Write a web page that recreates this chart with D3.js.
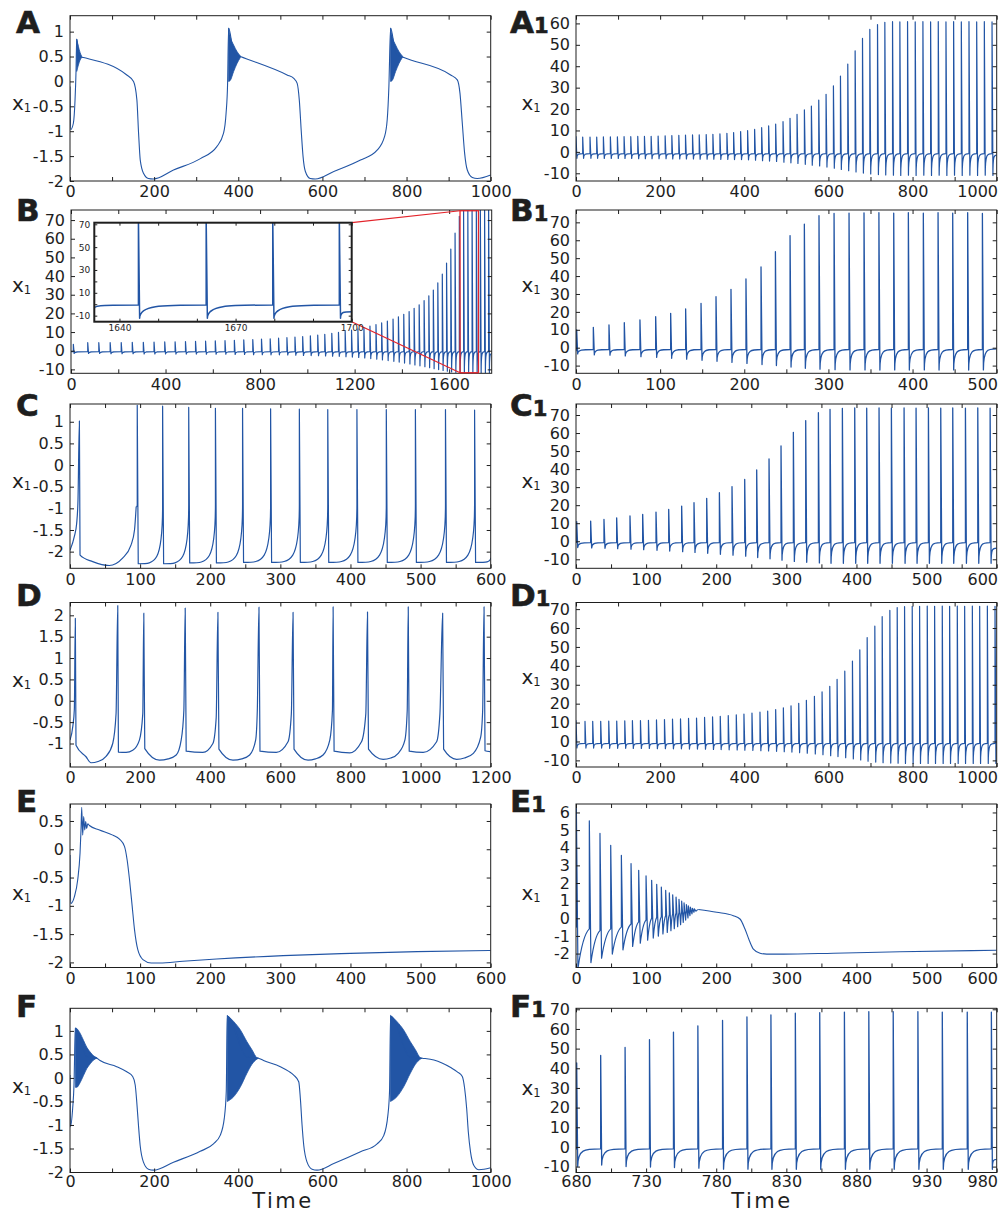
<!DOCTYPE html>
<html><head><meta charset="utf-8">
<script src="https://cdn.jsdelivr.net/npm/d3@7"></script>
<style>body{margin:0;background:#fff} svg{display:block}</style>
</head><body><svg id="c" width="1000" height="1213"></svg>
<script>
// ---------------- DATA ----------------
// Panel A: relaxation oscillation (key points) + fast bursts (envelopes)
const aTrace = [[0,-0.1],[1.5,-0.97],[8,-0.84],[12,-0.37],[14.3,0.2],[15.9,0.85],[22,0.5],[32,0.48],[135,0.13],[151,0.0],[159,-0.37],[163,-1.04],[167,-1.58],[175,-1.85],[186.5,-1.95],[198,-1.96],[246,-1.78],[310,-1.55],[349,-1.31],[365,-1.04],[371,-0.64],[374.6,-0.04],[377,1.07],[390,0.55],[405,0.5],[516,0.13],[532,0.06],[540,-0.04],[545,-0.37],[550,-1.04],[554,-1.51],[559.5,-1.81],[571,-1.95],[583,-1.96],[627,-1.81],[690.5,-1.58],[730,-1.38],[747.6,-1.11],[754,-0.77],[758,-0.1],[762,1.07],[775,0.55],[793.6,0.48],[904.8,0.13],[920.6,0.03],[927,-0.24],[932.5,-0.84],[938,-1.44],[944.4,-1.78],[956.3,-1.93],[968,-1.95],[1000,-1.88]];
const aBurstT  = [[15.9,20,24,28],[377,381,389,397,405],[762,766,774,782,790]];
const aBurstHi = [[0.85,0.7,0.58,0.5],[1.07,0.9,0.73,0.6,0.51],[1.07,0.9,0.73,0.6,0.51]];
const aBurstLo = [[0.2,0.33,0.43,0.48],[0.0,0.02,0.2,0.36,0.48],[0.0,0.02,0.2,0.36,0.48]];
const aXTicks = [0,100,200,300,400,500,600,700,800,900,1000];
const aXLabels = [0,200,400,600,800,1000];
const aYTicks = [-2,-1.5,-1,-0.5,0,0.5,1];

// Panel A1: spike train
const a1T = [0,15.9,33.3,49.2,65.1,81.7,98.4,114.3,130.2,146.8,162.7,178.6,195.2,211.9,227.8,244.4,260.3,277,292.9,309.5,325.4,342.1,358.7,374.6,391.3,407.9,424.6,441.3,457.9,474.6,492.1,508.7,525.4,542.9,559.5,577,594.4,611.9,628.6,646,663.5,681,698.4,716.7,734.1,752.4,769.8,788.1,806.3,824.6,842.9,861.1,879.4,897.6,915.9,934.1,952.4,970.6,988.9];
const a1Peak = [7.1,6.9,6.9,6.9,7.0,7.0,7.0,7.1,7.1,7.2,7.2,7.3,7.4,7.5,7.6,7.7,7.8,7.9,8.0,8.1,8.2,8.4,8.7,9.0,9.5,9.9,10.5,11.3,12.1,13.0,14.1,15.7,17.5,19.6,21.4,24.2,26.9,30.8,35.4,41.0,47.2,53.0,57.2,59.5,60.5,60.8,60.7,60.8,60.7,60.8,60.7,60.8,60.7,60.8,60.7,60.8,60.7,60.8,60.7];
const a1Trough = [-3.0,-3.0,-3.0,-3.0,-3.1,-3.1,-3.1,-3.1,-3.1,-3.2,-3.2,-3.2,-3.2,-3.2,-3.3,-3.3,-3.3,-3.3,-3.4,-3.4,-3.4,-3.5,-3.5,-3.6,-3.6,-3.7,-3.9,-4.1,-4.3,-4.5,-4.8,-5.1,-5.4,-5.8,-6.2,-6.6,-7.1,-7.6,-8.2,-8.8,-9.4,-9.9,-10.3,-10.6,-10.8,-10.9,-11.0,-10.9,-11.0,-10.9,-11.0,-10.9,-11.0,-10.9,-11.0,-10.9,-11.0,-10.9,-11.0];
const a1Pre = -0.8;
const a1YTicks = [-10,0,10,20,30,40,50,60];

// Panel B: long spike train + zoom window + inset
const bT = [9.9,70.8,117.6,165.7,212.5,259.2,306,351.3,396.6,440.5,484.4,526.9,569.4,610.5,651.6,691.2,730.9,769.1,806,842.8,878.2,913.6,947.6,980.2,1012.7,1043.9,1073.7,1103.4,1131.7,1160,1187,1213.9,1239.4,1264.9,1290.4,1314.4,1338.5,1362.6,1385.3,1407.9,1430.6,1451.8,1473.1,1494,1514,1533,1552,1571,1589,1607,1625,1643,1661,1679,1697,1715,1732,1750,1767];
const bPeak = [3.4,4.3,4.3,4.4,4.4,4.5,4.5,4.6,4.7,4.8,4.9,5.0,5.1,5.3,5.4,5.6,5.8,6.0,6.2,6.4,6.7,7.0,7.3,7.6,8.0,8.4,8.8,9.3,9.8,10.4,11.0,11.7,12.4,13.2,14.0,14.9,15.9,17.0,18.2,19.5,21.0,22.7,24.6,26.8,29.4,32.5,36.3,41.0,47.0,54.5,63.0,72.0,75.2,75.2,75.2,75.2,75.2,75.2,75.2];
const bTrough = [-1.5,-1.5,-1.5,-1.6,-1.6,-1.6,-1.7,-1.7,-1.7,-1.8,-1.8,-1.8,-1.9,-1.9,-1.9,-2.0,-2.0,-2.1,-2.1,-2.2,-2.2,-2.3,-2.4,-2.5,-2.6,-2.7,-2.8,-2.9,-3.0,-3.2,-3.4,-3.6,-3.9,-4.2,-4.5,-4.9,-5.3,-5.7,-6.1,-6.6,-7.1,-7.6,-8.1,-8.6,-9.1,-9.6,-10.1,-10.6,-11.0,-11.4,-11.7,-11.9,-12.0,-12.0,-12.0,-12.0,-12.0,-12.0,-12.0];
const bPre = -0.5;
const bZoomWindow = [1646, 1724];
const bXTicks = [0,200,400,600,800,1000,1200,1400,1600];
const bXLabels = [0,400,800,1200,1600];
const bYTicks = [-10,0,10,20,30,40,50,60,70];
const insT = [1644.9,1662.4,1679.6,1696.8];
const insPeak = [76,76,76,76];
const insTrough = [-12.3,-12.3,-12.3,-12.3];
const insPre = -0.7;
const insXTicks = [1640,1650,1660,1670,1680,1690,1700];
const insXLabels = [1640,1670,1700];
const insYTicks = [-10,0,10,20,30,40,50,60,70];
const insYLabels = [-10,10,30,50,70];

// Panel B1
const b1T = [0.8,20.6,39.2,57.4,76,94.7,112.5,130.3,148.6,166.4,184.2,202,219.9,237,254.4,271.4,288.8,306.7,324.5,342.3,360,377.6,395,412.8,430.3,447.7,465.5,483];
const b1Peak = [10,11.4,12.7,14,15.5,17.3,19.2,21.6,24.8,28.5,32.6,38.4,45.1,53.6,62.6,69,73.7,75,75.2,75.3,75.4,75.1,75.4,75.1,75.4,75.1,75.4,75];
const b1Trough = [-3.5,-4,-4.2,-4.6,-5,-5.4,-5.9,-6.4,-7,-7.6,-8.2,-8.8,-9.4,-10,-10.8,-11.5,-12,-12.3,-12.4,-12.4,-12.5,-12.4,-12.5,-12.4,-12.5,-12.4,-12.5,-12.4];
const b1Pre = -1;
const b1XTicks = [0,50,100,150,200,250,300,350,400,450,500];
const b1XLabels = [0,100,200,300,400,500];

// Panel C: initial irregular part (key points) then periodic spikes
const cInit = [[0,-1.97],[6.2,-1.65],[9.5,-1.35],[11.4,-0.81],[13.4,1.02],[14.3,-2.08],[32.4,-2.23],[56,-2.32],[75,-2.15],[87,-1.85],[92,-1.5],[94.4,-0.96]];
const cT = [95.9,132.1,169.3,207.4,246.1,286.1,327.1,367.6,409.2,451.1,492.6,535.5,577.0];
const cPeak = [1.38,1.36,1.33,1.31,1.31,1.30,1.29,1.28,1.28,1.28,1.28,1.28,1.27];
const cTrough = [-2.28,-2.28,-2.26,-2.26,-2.25,-2.25,-2.25,-2.25,-2.25,-2.25,-2.25,-2.25,-2.25];
const cPre = -0.9;
const cEnd = [600,-2.14];
const cXTicks = [0,50,100,150,200,250,300,350,400,450,500,550,600];
const cXLabels = [0,100,200,300,400,500,600];
const cYTicks = [-2,-1.5,-1,-0.5,0,0.5,1];

// Panel C1
const c1T = [1,20.9,39.9,58,77,95.1,114.1,132.2,150.7,168.3,186.4,204.5,222.5,240.6,257.7,275.3,292.4,310,327.6,345.7,362.3,379.9,397.5,414.6,432.2,449.8,467.9,485,502.6,520.2,537.3,555.4,573,590.6];
const c1Peak = [10.9,11.2,12.1,13,14,14.9,16.2,17.7,19.5,21.4,23.8,26.9,30.3,34.3,39.5,45.6,52.8,60.4,66.9,71.3,73.1,73.7,73.9,73.8,73.9,73.8,73.9,73.8,73.9,73.8,73.9,73.8,73.9,73.8];
const c1Trough = [-3.5,-3.7,-3.9,-4.1,-4.4,-4.7,-5.0,-5.4,-5.8,-6.2,-6.7,-7.2,-7.7,-8.3,-9.0,-9.7,-10.5,-11.2,-11.7,-12.0,-12.2,-12.2,-12.2,-12.2,-12.2,-12.2,-12.2,-12.2,-12.2,-12.2,-12.2,-12.2,-12.2,-12.2];
const c1Pre = -0.8;

// Panel D: key points
const dTrace = [[0,-0.92],[8,-0.6],[12.4,-0.2],[15.2,1.93],[17.1,-1.04],[45.7,-1.31],[60,-1.45],[80,-1.42],[102.9,-1.3],[121.9,-1.0],[131.4,-0.3],[136.2,2.23],[138.1,-1.2],[160,-1.21],[179,-1.16],[198,-0.92],[207.6,-0.3],[210.5,2.05],[213.3,-1.12],[255.2,-1.39],[280,-1.36],[302.9,-1.27],[317.1,-0.92],[324.8,-0.22],[328.6,2.17],[331.4,-1.18],[379,-1.21],[407.6,-1.0],[417,-0.4],[421.9,2.07],[424.8,-1.13],[464.8,-1.39],[490,-1.36],[512.4,-1.27],[529.5,-0.92],[534.3,-0.22],[539,2.19],[541.9,-1.18],[588.6,-1.21],[621.9,-0.96],[631.4,-0.3],[636.2,2.07],[639,-1.13],[679,-1.39],[700,-1.36],[721.9,-1.27],[741,-0.92],[748.6,-0.22],[750.5,2.2],[753.3,-1.18],[798,-1.22],[831.4,-0.96],[843.8,-0.3],[848.6,2.08],[851.4,-1.13],[893.3,-1.37],[915,-1.34],[936.2,-1.23],[955.2,-0.92],[961.9,-0.22],[964.8,2.2],[967.6,-1.18],[1007.6,-1.21],[1045.7,-0.96],[1055.2,-0.3],[1062.9,2.05],[1065.7,-1.13],[1102.9,-1.37],[1125,-1.34],[1150.5,-1.23],[1171.4,-0.85],[1177.1,-0.22],[1181,2.2],[1183.8,-1.17],[1198,-1.19]];
const dXTicks = [0,100,200,300,400,500,600,700,800,900,1000,1100,1200];
const dXLabels = [0,200,400,600,800,1000,1200];
const dYTicks = [-1,-0.5,0,0.5,1,1.5,2];

// Panel D1
const d1T = [0,21.4,39.7,58.7,77.8,96.8,115.9,134.1,153.2,172.2,191.3,210.3,229.4,248.4,267.5,286.5,305.6,324.6,342.9,361.9,381,399.2,418.3,437.3,455.6,474.6,492.9,511.1,529.4,547.6,566.7,584.9,603.2,620.6,638.9,657.1,674.6,692.1,710.3,727.8,746,763.5,781,799.2,816.7,834.9,852.4,870.6,888.1,906.3,923.8,942.1,959.5,977.8,996];
const d1Peak = [11.1,10.6,10.7,10.7,10.8,10.8,10.9,11.0,11.1,11.2,11.4,11.6,11.8,12.0,12.2,12.4,12.7,13.0,13.3,13.7,14.1,14.5,15.0,15.5,16.1,16.9,17.8,18.9,20.2,21.8,23.8,26.2,29.2,32.8,37.2,42.5,48.5,55,61,66,69.3,70.8,71.3,71.5,71.5,71.6,71.5,71.6,71.5,71.6,71.5,71.6,71.5,71.6,71.5];
const d1Trough = [-3.4,-3.5,-3.5,-3.5,-3.6,-3.6,-3.6,-3.7,-3.7,-3.7,-3.8,-3.8,-3.9,-3.9,-4.0,-4.0,-4.1,-4.2,-4.3,-4.4,-4.5,-4.6,-4.7,-4.9,-5.0,-5.2,-5.4,-5.6,-5.9,-6.2,-6.6,-7.0,-7.5,-8.0,-8.6,-9.2,-9.8,-10.4,-10.9,-11.2,-11.4,-11.5,-11.6,-11.6,-11.6,-11.6,-11.6,-11.6,-11.6,-11.6,-11.6,-11.6,-11.6,-11.6,-11.6];
const d1Pre = -1;

// Panel E: key points
const eTrace = [[0,-0.1],[1,-0.96],[6.2,-0.84],[11,-0.54],[14.3,-0.07],[15.7,0.34],[16.7,0.74],[18.1,0.25],[19.5,0.58],[21,0.34],[22.4,0.49],[23.8,0.37],[25.3,0.45],[27.7,0.42],[42,0.34],[61,0.25],[70.6,0.18],[77.7,0.05],[81.5,-0.19],[84.9,-0.54],[88.7,-1.01],[92,-1.42],[96.8,-1.78],[104,-1.95],[115.9,-2.01],[127.8,-2.01],[161,-1.98],[209,-1.94],[304,-1.88],[400,-1.84],[495,-1.81],[600,-1.79]];
const eYTicks = [-2,-1.5,-1,-0.5,0,0.5];

// Panel E1: decaying spikes then plateau and drop
const e1T = [0.5,19,34.2,49.5,64.7,78.5,89.4,99.9,107.9,115.1,121.7,127.9,133.1,137.9,142.7,146.9,150.7,154.1,157.4,160.2,163.1,166,168.8];
const e1Peak = [6.33,5.53,4.81,4.14,3.57,3.1,2.72,2.4,2.15,1.92,1.77,1.58,1.44,1.33,1.2,1.08,0.97,0.87,0.78,0.7,0.63,0.57,0.53];
const e1Trough = [-2.85,-2.51,-2.26,-2.03,-1.79,-1.6,-1.41,-1.24,-1.12,-1.01,-0.89,-0.8,-0.7,-0.59,-0.48,-0.36,-0.23,-0.1,0.02,0.15,0.25,0.34,0.4];
const e1Pre = [-0.5,-0.6,-0.7,-0.6,-0.5,-0.32,-0.2,-0.1,0,0.05,0.1,0.15,0.2,0.25,0.3,0.33,0.36,0.39,0.42,0.44,0.46,0.48,0.5];
const e1Tail = [[174.5,0.5],[200.7,0.34],[224.4,0.15],[233.9,-0.04],[241,-0.61],[247.3,-1.27],[253,-1.75],[262.5,-1.98],[272,-2.03],[295.8,-2.03],[367,-1.98],[462,-1.9],[600,-1.81]];
const e1YTicks = [-2,-1,0,1,2,3,4,5,6];

// Panel F: key points + bursts
const fTrace = [[0,0.06],[1,-1.04],[6.3,-0.65],[9.5,-0.15],[12.7,1.06],[40,0.45],[64,0.42],[71.4,0.37],[111,0.24],[135,0.13],[149,0.03],[155,-0.15],[158.7,-0.51],[162.7,-1.0],[166.7,-1.43],[174.6,-1.79],[186.5,-1.94],[198.4,-1.96],[246,-1.79],[309.5,-1.56],[341,-1.4],[357,-1.22],[366.7,-0.86],[371.4,-0.29],[373.8,1.31],[420,0.45],[448,0.42],[460,0.37],[500,0.24],[520,0.14],[531.7,0.06],[543.7,-0.08],[547.6,-0.44],[551.6,-1.0],[555.6,-1.43],[563.5,-1.79],[575.4,-1.94],[587.3,-1.96],[627,-1.82],[690.5,-1.57],[730,-1.4],[746,-1.22],[755.6,-0.79],[759.5,-0.29],[761.9,1.31],[808,0.45],[837,0.42],[865,0.38],[905,0.22],[920.6,0.13],[932.5,0.03],[938,-0.22],[942.9,-0.65],[946.8,-1.15],[952,-1.57],[960,-1.86],[972,-1.95],[984,-1.94],[1000,-1.91]];
const fBurstT  = [[12.7,16,24,32,40,48,56,64],[373.8,389,405,420.6,432.5,444.4,448],[761.9,777,793,809,821,833,837]];
const fBurstHi = [[1.06,1.05,0.95,0.8,0.65,0.55,0.47,0.43],[1.33,1.2,1.02,0.77,0.6,0.43,0.42],[1.33,1.2,1.02,0.77,0.6,0.43,0.42]];
const fBurstLo = [[-0.2,-0.2,-0.1,0.05,0.2,0.3,0.38,0.42],[-0.5,-0.4,-0.19,0.1,0.29,0.4,0.42],[-0.5,-0.4,-0.19,0.1,0.29,0.4,0.42]];

// Panel F1
const f1T = [680.5,697.6,715,732.4,749.5,766.9,784.5,801.9,819,836.4,853.8,871.4,888.8,906.2,923.8,941.2,959,976.2];
const f1Peak = [42.7,46.5,50.6,54.5,58.4,61.6,64.3,66.1,67.1,68,68.3,68.6,68.8,68.8,68.8,68.6,68.6,68.5];
const f1Trough = [-10,-9.2,-10,-10.2,-10.5,-10.8,-11.3,-11.3,-11.4,-11.4,-11.4,-11.4,-11.4,-11.4,-11.4,-11.4,-11.4,-11.4];
const f1Pre = -1;
const f1XTicks = [680,705,730,755,780,805,830,855,880,905,930,955,980];
const f1XLabels = [680,730,780,830,880,930,980];
const tenYTicks = [-10,0,10,20,30,40,50,60,70];

// ---------------- DRAWING ----------------
const BLUE = "#2255a5";
const INK = "#1e1e1e";
const FONT = "'DejaVu Sans', sans-serif";
const svg = d3.select("#c");
const CONCAVE = [0, 1, 0.3, 1], CONVEX = [0.7, 0, 1, 0], SOFT = [0.25, 0.5, 0.6, 0.9];
let clipN = 0;

function makePanel(x0, x1, y0, y1, xd, yd) {
  const xs = d3.scaleLinear().domain(xd).range([x0, x1]);
  const ys = d3.scaleLinear().domain(yd).range([y1, y0]);
  const id = "clip" + (clipN++);
  svg.append("clipPath").attr("id", id).append("rect")
    .attr("x", x0).attr("y", y0).attr("width", x1 - x0).attr("height", y1 - y0);
  const g = svg.append("g");
  const plot = g.append("g").attr("clip-path", "url(#" + id + ")");
  return {x0, x1, y0, y1, xs, ys, g, plot};
}

function axes(P, xt, xl, yt, yl, o) {
  o = o || {};
  const tl = o.tick || 4, fs = o.fs || "16px";
  const fmt = labels => d => labels.indexOf(d) >= 0 ? String(d) : "";
  const b = P.g.append("g").attr("transform", `translate(0,${P.y1})`)
    .call(d3.axisBottom(P.xs).tickValues(xt).tickSize(-tl).tickPadding(o.xpad !== undefined ? o.xpad : 5).tickFormat(fmt(xl)));
  const t = P.g.append("g").attr("transform", `translate(0,${P.y0})`)
    .call(d3.axisTop(P.xs).tickValues(xt).tickSize(-tl).tickFormat(""));
  const l = P.g.append("g").attr("transform", `translate(${P.x0},0)`)
    .call(d3.axisLeft(P.ys).tickValues(yt).tickSize(-tl).tickPadding(o.ypad || 6).tickFormat(fmt(yl)));
  const r = P.g.append("g").attr("transform", `translate(${P.x1},0)`)
    .call(d3.axisRight(P.ys).tickValues(yt).tickSize(-tl).tickFormat(""));
  [b, t, l, r].forEach(a => {
    a.attr("font-family", null).attr("font-size", null);
    a.select(".domain").remove();
    a.selectAll("line").attr("stroke", INK).attr("stroke-width", o.tw || 1);
    a.selectAll("text").attr("fill", INK).style("font-family", FONT).style("font-size", fs);
  });
  // keep labels inside the page
  b.selectAll(".tick").each(function () {
    const tick = d3.select(this);
    const tx = +tick.attr("transform").match(/translate\(([-\d.e]+)/)[1];
    const txt = tick.select("text");
    const w = txt.node().getComputedTextLength();
    if (tx + w / 2 > 998) txt.attr("x", 998 - w / 2 - tx);
  });
  P.g.append("rect").attr("x", P.x0).attr("y", P.y0).attr("width", P.x1 - P.x0).attr("height", P.y1 - P.y0)
    .attr("fill", "none").attr("stroke", INK).attr("stroke-width", o.fw || 1);
}

function keyLine(P, pts, w) {
  const line = d3.line().x(d => P.xs(d[0])).y(d => P.ys(d[1])).curve(d3.curveMonotoneX);
  P.plot.append("path").attr("d", line(pts)).attr("fill", "none").attr("stroke", BLUE)
    .attr("stroke-width", w || 1.1).attr("stroke-linejoin", "round");
}

function bursts(P, T, H, L) {
  const area = d3.area().x(d => P.xs(d[0])).y0(d => P.ys(d[2])).y1(d => P.ys(d[1])).curve(d3.curveMonotoneX);
  T.forEach((ts, k) => {
    const pts = ts.map((t, i) => [t, H[k][i], L[k][i]]);
    P.plot.append("path").attr("d", area(pts)).attr("fill", BLUE).attr("stroke", BLUE).attr("stroke-width", 0.8);
  });
}

function spikes(P, start, T, pk, tr, pre, end, shape, dx, w) {
  const p = d3.path();
  let cx = P.xs(start[0]), cy = P.ys(start[1]);
  p.moveTo(cx, cy);
  const go = (x1, y1) => {
    const d = x1 - cx, h = y1 - cy;
    if (d < 0.5) p.lineTo(x1, y1);
    else p.bezierCurveTo(cx + shape[0] * d, cy + shape[1] * h, cx + shape[2] * d, cy + shape[3] * h, x1, y1);
    cx = x1; cy = y1;
  };
  T.forEach((t, i) => {
    const xt = P.xs(t);
    const pv = Array.isArray(pre) ? pre[i] : pre;
    go(xt, P.ys(pv));
    p.lineTo(xt, P.ys(pk[i]));
    cx = xt + dx; cy = P.ys(tr[i]);
    p.lineTo(cx, cy);
  });
  if (end) go(P.xs(end[0]), P.ys(end[1]));
  P.plot.append("path").attr("d", p.toString()).attr("fill", "none").attr("stroke", BLUE)
    .attr("stroke-width", w || 1.2).attr("stroke-linejoin", "round");
}

function letter(x, y, L, sub) {
  const t = svg.append("text").attr("x", x).attr("y", y).attr("fill", INK)
    .attr("stroke", INK).attr("stroke-width", 0.6)
    .style("font-family", FONT).style("font-weight", "bold").style("font-size", "31px");
  t.append("tspan").text(L);
  if (sub) t.append("tspan").style("font-size", "21px").text("1");
}
function ylab(x, y) {
  const t = svg.append("text").attr("x", x).attr("y", y).attr("fill", INK).style("font-family", FONT).style("font-size", "20px");
  t.append("tspan").text("x");
  t.append("tspan").attr("dy", 2).style("font-size", "11.5px").text("1");
}
function xlab(x, y) {
  svg.append("text").attr("x", x).attr("y", y).attr("text-anchor", "middle").attr("fill", INK)
    .style("font-family", FONT).style("font-size", "21px").style("letter-spacing", "2.5px").text("Time");
}

const LX0 = 70, LX1 = 490.7, RX0 = 576, RX1 = 996.7;

// ---- A
let P = makePanel(LX0, LX1, 15.7, 181, [0, 1000], [-2, 1.32]);
bursts(P, aBurstT, aBurstHi, aBurstLo);
keyLine(P, aTrace);
axes(P, aXTicks, aXLabels, aYTicks, aYTicks);
letter(16, 33, "A"); ylab(12, 110);

// ---- A1
P = makePanel(RX0, RX1, 15.7, 181, [0, 1000], [-13.6, 63.6]);
spikes(P, [0, a1Pre], a1T, a1Peak, a1Trough, a1Pre, [1000, -1.5], CONCAVE, 0.9);
axes(P, aXTicks, aXLabels, a1YTicks, a1YTicks);
letter(510, 33, "A", true); ylab(521.5, 110);

// ---- B (with zoom window and inset)
P = makePanel(71, 491.7, 210, 373.3, [0, 1780], [-12.1, 75.4]);
spikes(P, [0, bPre], bT, bPeak, bTrough, bPre, [1780, -1.5], CONCAVE, 0.8);
axes(P, bXTicks, bXLabels, bYTicks, bYTicks);
const bx0 = P.xs(bZoomWindow[0]), bx1 = P.xs(bZoomWindow[1]);
const by0 = P.ys(75), by1 = P.ys(-11.8);
P.g.append("rect").attr("x", bx0).attr("y", by0).attr("width", bx1 - bx0).attr("height", by1 - by0)
  .attr("fill", "none").attr("stroke", "#e3232a").attr("stroke-width", 1.3);
const IX0 = 94.3, IX1 = 351.7, IY0 = 222.7, IY1 = 321.7;
P.g.append("line").attr("x1", IX1).attr("y1", IY0).attr("x2", bx0).attr("y2", by0).attr("stroke", "#e3232a").attr("stroke-width", 1.2);
P.g.append("line").attr("x1", IX1).attr("y1", IY1).attr("x2", bx0).attr("y2", by1).attr("stroke", "#e3232a").attr("stroke-width", 1.2);
letter(16, 220.5, "B"); ylab(12, 291.7);
let Q = makePanel(IX0, IX1, IY0, IY1, [1633.5, 1700], [-15.3, 71.4]);
Q.g.insert("rect", ":first-child").attr("x", IX0).attr("y", IY0).attr("width", IX1 - IX0).attr("height", IY1 - IY0).attr("fill", "#fff");
spikes(Q, [1633.5, -3.5], insT, insPeak, insTrough, insPre, [1700, -6.5], CONCAVE, 1.2, 1.5);
axes(Q, insXTicks, insXLabels, insYTicks, insYLabels, {tick: 3, fs: "9px", xpad: 3, ypad: 4, fw: 2});

// ---- B1
P = makePanel(RX0, RX1, 210, 373.3, [0, 500], [-14.3, 76.9]);
spikes(P, [0, -2], b1T, b1Peak, b1Trough, b1Pre, [500, -0.7], CONCAVE, 1.0, 1.3);
axes(P, b1XTicks, b1XLabels, tenYTicks, tenYTicks);
letter(510, 220.5, "B", true); ylab(521.5, 291.7);

// ---- C
P = makePanel(LX0, LX1, 404, 568.3, [0, 600], [-2.385, 1.41]);
keyLine(P, cInit, 1.2);
spikes(P, cInit[cInit.length - 1], cT, cPeak, cTrough, cPre, cEnd, CONVEX, 1.0, 1.2);
axes(P, cXTicks, cXLabels, cYTicks, cYTicks);
letter(16, 415.5, "C"); ylab(12, 488.3);

// ---- C1
P = makePanel(RX0, RX1, 404, 568.3, [0, 600], [-15, 76.1]);
spikes(P, [0, -1], c1T, c1Peak, c1Trough, c1Pre, [600, -3.8], CONCAVE, 1.0, 1.3);
axes(P, cXTicks, cXLabels, tenYTicks, tenYTicks);
letter(510, 415.5, "C", true); ylab(521.5, 488.3);

// ---- D
P = makePanel(LX0, LX1, 602.5, 767, [0, 1200], [-1.55, 2.3]);
keyLine(P, dTrace, 1.2);
axes(P, dXTicks, dXLabels, dYTicks, dYTicks);
letter(16, 605.5, "D"); ylab(12, 687);

// ---- D1
P = makePanel(RX0, RX1, 602.5, 767, [0, 1000], [-13.5, 73.5]);
spikes(P, [0, d1Pre], d1T, d1Peak, d1Trough, d1Pre, [1000, -3], CONCAVE, 0.9, 1.2);
axes(P, aXTicks, aXLabels, tenYTicks, tenYTicks);
letter(510, 605.5, "D", true); ylab(521.5, 683.7);

// ---- E
P = makePanel(LX0, LX1, 804, 967.5, [0, 600], [-2.09, 0.8]);
keyLine(P, eTrace, 1.1);
axes(P, cXTicks, cXLabels, eYTicks, eYTicks);
letter(16, 811.5, "E"); ylab(12, 900);

// ---- E1
P = makePanel(RX0, RX1, 804, 967.5, [0, 600], [-2.79, 6.48]);
spikes(P, [0, -0.5], e1T, e1Peak, e1Trough, e1Pre, e1Tail[0], SOFT, 1.6, 1.2);
keyLine(P, e1Tail, 1.1);
axes(P, cXTicks, cXLabels, e1YTicks, e1YTicks);
letter(510, 811.5, "E", true); ylab(521.5, 900);

// ---- F
P = makePanel(LX0, LX1, 1008.3, 1172.5, [0, 1000], [-2.01, 1.48]);
bursts(P, fBurstT, fBurstHi, fBurstLo);
keyLine(P, fTrace, 1.1);
axes(P, aXTicks, aXLabels, aYTicks, aYTicks, {xpad: 3});
letter(16, 1016.5, "F"); ylab(12, 1093.3);
xlab(283, 1208);

// ---- F1
P = makePanel(RX0, RX1, 1008.3, 1172.5, [680, 980], [-13, 70.5]);
spikes(P, [680, f1Pre], f1T, f1Peak, f1Trough, f1Pre, [980, -6.3], CONCAVE, 1.0, 1.3);
axes(P, f1XTicks, f1XLabels, tenYTicks, tenYTicks, {xpad: 3});
letter(510, 1016.5, "F", true); ylab(521.5, 1095);
xlab(762, 1208);
</script></body></html>
